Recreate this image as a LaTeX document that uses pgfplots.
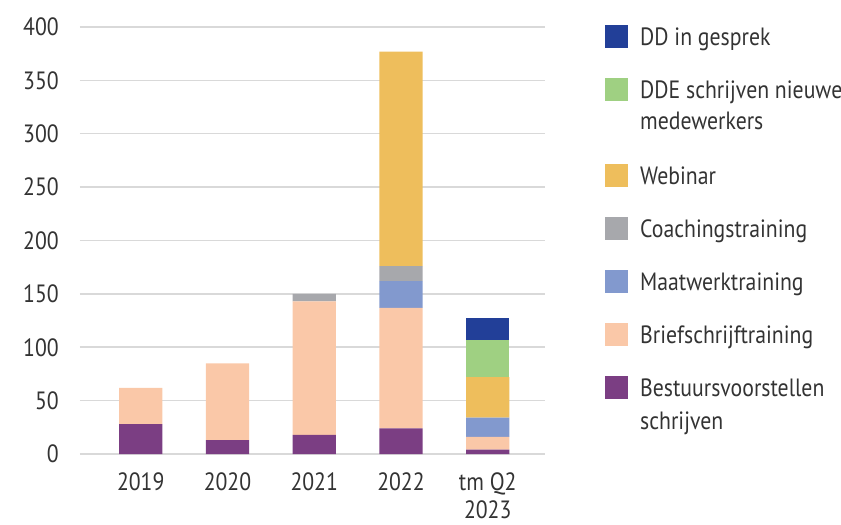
\documentclass[border=0pt]{standalone}
\usepackage{fontspec}
\setmainfont[FakeStretch=0.87]{PT Sans}
\usepackage{pgfplots}
\pgfplotsset{compat=1.18}
\usepackage{pgfplotstable}
\definecolor{cBest}{HTML}{7B3E83}
\definecolor{cBrief}{HTML}{FAC8A8}
\definecolor{cMaat}{HTML}{8299CE}
\definecolor{cCoach}{HTML}{A7A8AC}
\definecolor{cWeb}{HTML}{EEBE5C}
\definecolor{cDDE}{HTML}{9FD082}
\definecolor{cDD}{HTML}{223F98}
\definecolor{cGrid}{HTML}{D9D9D9}
\definecolor{cText}{HTML}{333333}
% legend swatch with invisible extent: #2 depth below baseline, #3 height above
\newcommand\sw[3]{\fill[#1, draw=none] (0bp,-3bp) rectangle (23bp,20bp); \path[draw=none, fill=none] (0bp,-#2) -- (0bp,#3);}
\newcommand\ew[2]{\path[draw=none, fill=none] (0bp,-#1) -- (23bp,#2);}
\pgfplotstableread{
x Best Brief Maat Coach Web DDE DD
0 28 34 0 0 0 0 0
1 13 72 0 0 0 0 0
2 18 125 0 7 0 0 0
3 24 113 25 14 201 0 0
4 4 12 18 0 38 35 20
}\data
\begin{document}
\begin{tikzpicture}[font=\fontsize{25bp}{32bp}\selectfont, text=cText]
\useasboundingbox (-80bp,-71bp) rectangle (761bp,454bp);
\begin{axis}[
  scale only axis, width=465bp, height=427bp,
  ybar stacked, bar width=0.5,
  xmin=-0.7, xmax=4.66, ymin=0, ymax=400,
  ytick={0,50,...,400},
  xtick={0,1,2,3,4},
  xticklabels={2019,2020,2021,2022,{tm Q2\\2023}},
  /pgf/number format/assume math mode=true,
  axis line style={draw=none},
  major tick length=0pt,
  ymajorgrids, grid style={cGrid, line width=1.5bp},
  tick label style={font=\fontsize{25bp}{28bp}\selectfont, text=cText, inner sep=0pt},
  yticklabel style={anchor=east, xshift=-21bp},
  xticklabel style={anchor=north, yshift=-18bp, align=center},
  legend cell align=left,
  legend style={at={(1.129,1.0047)}, anchor=north west, draw=none, fill=none, inner sep=0pt,
    font=\fontsize{25bp}{32bp}\selectfont, text=cText,
    row sep=0pt, nodes={inner sep=0pt}, cells={anchor=base west},
    /tikz/every odd column/.append style={column sep=12bp}},
  reverse legend,
]
\addlegendimage{legend image code/.code={\ew{35bp}{24bp}}}
\addlegendentry{schrijven}
\addplot[fill=cBest, draw=none, legend image code/.code={\sw{cBest}{9bp}{20bp}}] table[x=x,y=Best]{\data};
\addlegendentry{Bestuursvoorstellen}
\addplot[fill=cBrief, draw=none, legend image code/.code={\sw{cBrief}{33bp}{19bp}}] table[x=x,y=Brief]{\data};
\addlegendentry{Briefschrijftraining}
\addplot[fill=cMaat, draw=none, legend image code/.code={\sw{cMaat}{33bp}{20bp}}] table[x=x,y=Maat]{\data};
\addlegendentry{Maatwerktraining}
\addplot[fill=cCoach, draw=none, legend image code/.code={\sw{cCoach}{33bp}{20bp}}] table[x=x,y=Coach]{\data};
\addlegendentry{Coachingstraining}
\addplot[fill=cWeb, draw=none, legend image code/.code={\sw{cWeb}{33bp}{20bp}}] table[x=x,y=Web]{\data};
\addlegendentry{Webinar}
\addlegendimage{legend image code/.code={\ew{35bp}{24bp}}}
\addlegendentry{medewerkers}
\addplot[fill=cDDE, draw=none, legend image code/.code={\sw{cDDE}{7bp}{20bp}}] table[x=x,y=DDE]{\data};
\addlegendentry{DDE schrijven nieuwe}
\addplot[fill=cDD, draw=none, legend image code/.code={\sw{cDD}{33bp}{20bp}}] table[x=x,y=DD]{\data};
\addlegendentry{DD in gesprek}
\end{axis}
\end{tikzpicture}
\end{document}
